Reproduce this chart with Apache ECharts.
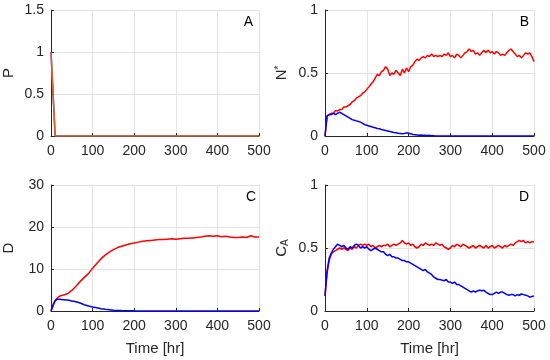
<!DOCTYPE html>
<html>
<head>
<meta charset="utf-8">
<script src="https://cdn.jsdelivr.net/npm/echarts@6/dist/echarts.min.js"></script>
<style>html,body{margin:0;padding:0;background:#fff}#c{width:550px;height:360px}</style>
</head>
<body>
<div id="c"></div>
<script>
// ---------- data ----------
var xTicks = [0, 100, 200, 300, 400, 500];

// Panel A
var timeA = [0, 10, 500];
var pBlue = [1, 0, 0];
var pOrange = [1, 0, 0];

// fine time grid (hr) for panels B and D
var timeFine = [0,5,10,15,20,25,30,35,40,45,50,55,60,65,70,75,80,85,90,95,
  100,105,110,115,120,125,130,135,140,145,150,155,160,165,170,175,180,185,190,195,
  200,205,210,215,220,225,230,235,240,245,250,255,260,265,270,275,280,285,290,295,
  300,305,310,315,320,325,330,335,340,345,350,355,360,365,370,375,380,385,390,395,
  400,405,410,415,420,425,430,435,440,445,450,455,460,465,470,475,480,485,490,495,500];

// Panel B: N*
var nRed = [0,0.16,0.17,0.18,0.18,0.20,0.20,0.21,0.21,0.23,0.23,0.24,0.25,0.27,0.28,0.30,0.31,0.32,0.34,0.35,
  0.37,0.39,0.41,0.43,0.46,0.49,0.48,0.51,0.52,0.55,0.53,0.48,0.50,0.49,0.52,0.50,0.48,0.53,0.50,0.54,
  0.51,0.55,0.56,0.59,0.61,0.60,0.62,0.63,0.62,0.64,0.63,0.65,0.63,0.64,0.63,0.64,0.63,0.65,0.64,0.66,
  0.63,0.64,0.62,0.65,0.64,0.62,0.64,0.66,0.67,0.69,0.67,0.68,0.65,0.66,0.64,0.66,0.68,0.66,0.68,0.66,
  0.67,0.65,0.67,0.66,0.64,0.65,0.64,0.66,0.68,0.69,0.67,0.65,0.63,0.64,0.62,0.64,0.66,0.65,0.66,0.63,0.59];
var nBlue = [0,0.16,0.17,0.17,0.18,0.17,0.18,0.19,0.18,0.17,0.16,0.15,0.14,0.13,0.125,0.12,0.115,0.11,0.10,0.09,
  0.085,0.08,0.075,0.07,0.065,0.06,0.058,0.052,0.048,0.044,0.04,0.036,0.032,0.028,0.025,0.022,0.02,0.018,0.02,0.025,
  0.022,0.018,0.012,0.01,0.008,0.006,0.008,0.005,0.006,0.004,0.005,0.003,0.002,0.001,0,0,0,0,0,0,
  0,0,0,0,0,0,0,0,0,0,0,0,0,0,0,0,0,0,0,0,
  0,0,0,0,0,0,0,0,0,0,0,0,0,0,0,0,0,0,0,0,0];

// Panel C: D
var timeC = [0,5,10,15,20,25,30,40,50,60,70,80,90,100,110,120,130,140,150,160,170,180,190,200,
  210,220,230,240,250,260,270,280,290,300,310,320,330,340,350,360,370,380,390,400,
  410,420,430,440,450,460,470,480,490,500];
var dRed = [0,1.2,2.4,3.1,3.5,3.7,3.8,4.1,4.9,5.9,7.0,8.0,8.9,10.2,11.3,12.4,13.3,14.0,14.6,15.1,15.4,15.7,16.0,16.2,
  16.4,16.6,16.7,16.8,16.9,17.0,17.0,17.1,17.2,17.1,17.2,17.3,17.3,17.4,17.5,17.6,17.8,17.9,17.8,17.9,
  17.7,17.8,17.6,17.5,17.5,17.6,17.5,17.9,17.6,17.6];
var dBlue = [0,1.5,2.5,2.8,2.8,2.75,2.7,2.6,2.4,2.2,1.9,1.5,1.2,0.95,0.75,0.55,0.4,0.3,0.2,0.14,0.1,0.07,0.05,0.03,
  0.02,0.01,0,0,0,0,0,0,0,0,0,0,0,0,0,0,0,0,0,0,
  0,0,0,0,0,0,0,0,0,0];

// Panel D: C_A
var caRed = [0.12,0.30,0.40,0.45,0.47,0.48,0.49,0.50,0.49,0.50,0.49,0.48,0.50,0.49,0.51,0.50,0.52,0.53,0.52,0.53,
  0.52,0.53,0.51,0.52,0.50,0.51,0.52,0.51,0.52,0.52,0.53,0.51,0.52,0.53,0.52,0.53,0.54,0.56,0.54,0.53,
  0.54,0.52,0.53,0.51,0.50,0.51,0.53,0.52,0.54,0.53,0.52,0.53,0.52,0.54,0.53,0.52,0.53,0.51,0.50,0.49,
  0.50,0.52,0.51,0.53,0.52,0.51,0.53,0.52,0.51,0.50,0.51,0.52,0.50,0.51,0.52,0.51,0.50,0.52,0.50,0.51,
  0.52,0.50,0.51,0.52,0.51,0.50,0.52,0.51,0.52,0.53,0.52,0.54,0.55,0.56,0.55,0.56,0.54,0.55,0.54,0.55,0.55];
var caBlue = [0.12,0.32,0.42,0.46,0.49,0.51,0.53,0.52,0.51,0.52,0.50,0.49,0.51,0.50,0.52,0.53,0.52,0.50,0.51,0.50,
  0.51,0.49,0.48,0.49,0.50,0.49,0.48,0.47,0.47,0.45,0.44,0.45,0.43,0.43,0.42,0.42,0.41,0.40,0.40,0.39,
  0.39,0.38,0.37,0.36,0.35,0.34,0.33,0.32,0.33,0.31,0.30,0.29,0.27,0.26,0.25,0.25,0.245,0.24,0.25,0.23,
  0.23,0.22,0.23,0.21,0.21,0.20,0.19,0.18,0.17,0.16,0.15,0.16,0.15,0.16,0.165,0.16,0.165,0.15,0.14,0.13,
  0.13,0.14,0.15,0.14,0.15,0.15,0.14,0.13,0.125,0.13,0.13,0.12,0.13,0.125,0.135,0.13,0.125,0.12,0.11,0.115,0.12];

var yTicksA = [0, 0.5, 1, 1.5];
var yTicksB = [0, 0.5, 1];
var yTicksC = [0, 10, 20, 30];
var yTicksD = [0, 0.5, 1];

// ---------- chart ----------
function pairs(t, v) { return t.map(function (x, i) { return [x, v[i]]; }); }

var FONT = 'Liberation Sans, Arial, Helvetica, sans-serif';
var TXT = '#262626';
var grids = [
  { left: 50, top: 10, width: 209, height: 126 },
  { left: 325, top: 10, width: 209, height: 126 },
  { left: 50, top: 185, width: 209, height: 126 },
  { left: 325, top: 185, width: 209, height: 126 }
];

function xAxis(idx, withName) {
  return {
    type: 'value', gridIndex: idx, min: xTicks[0], max: xTicks[xTicks.length - 1],
    interval: xTicks[1] - xTicks[0],
    name: withName ? 'Time [hr]' : '', nameLocation: 'middle', nameGap: 30,
    nameTextStyle: { color: TXT, fontSize: 15, fontFamily: FONT },
    axisLine: { show: true, onZero: false, lineStyle: { color: TXT, width: 1 } },
    axisTick: { show: true, inside: true, length: 3, lineStyle: { color: TXT } },
    axisLabel: { color: TXT, fontSize: 14, fontFamily: FONT, margin: 8 },
    splitLine: { show: true, lineStyle: { color: '#e3e3e3', width: 1 } }
  };
}
function yAxis(idx, ticks, name, rich) {
  return {
    type: 'value', gridIndex: idx, min: ticks[0], max: ticks[ticks.length - 1],
    interval: ticks[1] - ticks[0],
    name: name, nameLocation: 'middle', nameGap: 35,
    nameTextStyle: { color: TXT, fontSize: 15, fontFamily: FONT, rich: rich || {} },
    axisLine: { show: true, onZero: false, lineStyle: { color: TXT, width: 1 } },
    axisTick: { show: true, inside: true, length: 3, lineStyle: { color: TXT } },
    axisLabel: { color: TXT, fontSize: 14, fontFamily: FONT, margin: 7 },
    splitLine: { show: true, lineStyle: { color: '#e3e3e3', width: 1 } }
  };
}
function line(idx, t, v, color, w) {
  return {
    type: 'line', xAxisIndex: idx, yAxisIndex: idx, data: pairs(t, v),
    showSymbol: false, symbol: 'none', animation: false,
    lineStyle: { color: color, width: w || 1.5 }, itemStyle: { color: color }
  };
}

var chart = echarts.init(document.getElementById('c'), null, { renderer: 'canvas' });
chart.setOption({
  animation: false,
  backgroundColor: '#ffffff',
  grid: grids,
  xAxis: [xAxis(0, false), xAxis(1, false), xAxis(2, true), xAxis(3, true)],
  yAxis: [
    yAxis(0, yTicksA, 'P'),
    yAxis(1, yTicksB, '{n|N}{s|*}', {
      n: { fontSize: 15, fontFamily: FONT, color: TXT },
      s: { fontSize: 10, fontFamily: FONT, color: TXT, verticalAlign: 'top', padding: [0, 0, 6, 0] }
    }),
    yAxis(2, yTicksC, 'D'),
    yAxis(3, yTicksD, '{n|C}{s|A}', {
      n: { fontSize: 15, fontFamily: FONT, color: TXT },
      s: { fontSize: 10, fontFamily: FONT, color: TXT, verticalAlign: 'bottom', padding: [6, 0, 0, 0] }
    })
  ],
  series: [
    line(0, timeA, pBlue, '#0072BD', 1.5),
    line(0, timeA, pOrange, '#EE5A1C', 1.6),
    line(1, timeFine, nRed, '#FF0000'),
    line(1, timeFine, nBlue, '#0000FF'),
    line(2, timeC, dRed, '#FF0000'),
    line(2, timeC, dBlue, '#0000FF'),
    line(3, timeFine, caRed, '#FF0000'),
    line(3, timeFine, caBlue, '#0000FF')
  ],
  graphic: [
    { type: 'text', right: 297, top: 15, style: { text: 'A', fontSize: 14, fontFamily: FONT, fill: '#000' } },
    { type: 'text', right: 21, top: 15, style: { text: 'B', fontSize: 14, fontFamily: FONT, fill: '#000' } },
    { type: 'text', right: 294, top: 190, style: { text: 'C', fontSize: 14, fontFamily: FONT, fill: '#000' } },
    { type: 'text', right: 21, top: 190, style: { text: 'D', fontSize: 14, fontFamily: FONT, fill: '#000' } }
  ]
});
</script>
</body>
</html>
